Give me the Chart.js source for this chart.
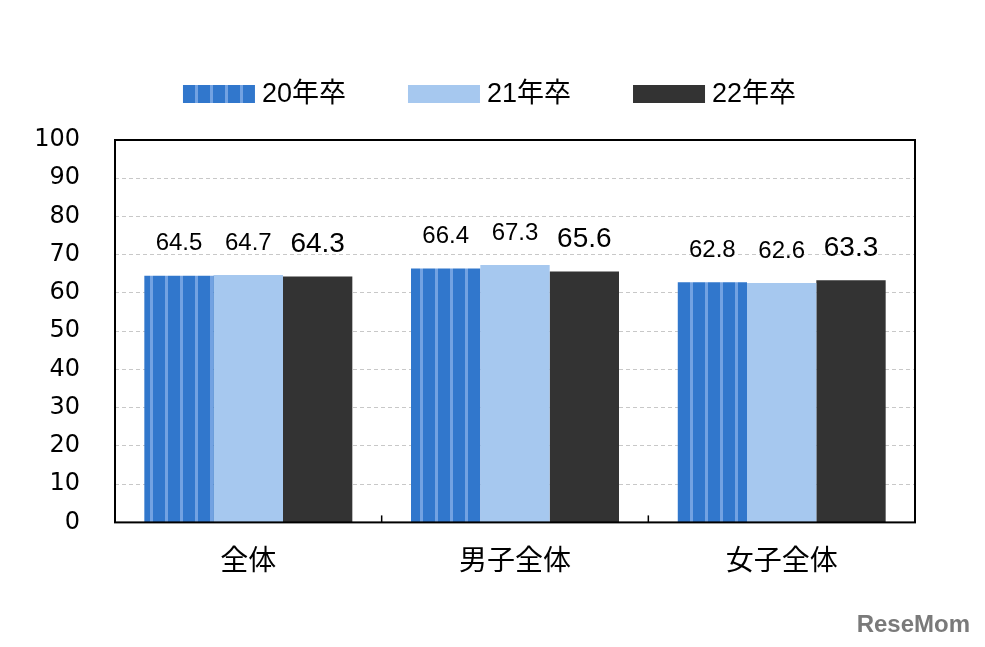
<!DOCTYPE html>
<html>
<head>
<meta charset="utf-8">
<script src="https://cdn.jsdelivr.net/npm/chart.js@4.4.1/dist/chart.umd.min.js"></script>
<style>
  html, body { margin: 0; padding: 0; background: #fff; }
  #wrap { width: 985px; height: 647px; position: relative; }
</style>
</head>
<body>
<div id="wrap"><canvas id="rateChart" width="985" height="647"></canvas></div>
<script>
const categories = ['全体', '男子全体', '女子全体'];
const seriesNames = ['20年卒', '21年卒', '22年卒'];
const grad20 = [64.5, 66.4, 62.8];
const grad21 = [64.7, 67.3, 62.6];
const grad22 = [64.3, 65.6, 63.3];
const yTicks = [0, 10, 20, 30, 40, 50, 60, 70, 80, 90, 100];

const latinFont = '"Liberation Sans", Arial, sans-serif';
const cjkFont = '"Liberation Sans", "Noto Sans CJK JP", sans-serif';

// striped fill for the 20年卒 series
function makeStripes() {
    const c = document.createElement('canvas');
    c.width = 15;
    c.height = 4;
    const g = c.getContext('2d');
    g.fillStyle = '#3177CC';
    g.fillRect(0, 0, 15, 4);
    g.fillStyle = '#72A2E2';
    g.fillRect(0, 0, 3, 4);
    return g.createPattern(c, 'repeat');
}
const stripes = makeStripes();

// legend, frame, value labels, category ticks, watermark
const decorations = {
    id: 'decorations',
    afterDatasetsDraw(chart) {
        const ctx = chart.ctx;
        const area = chart.chartArea;
        const x = chart.scales.x;

        // value labels
        const sizes = [24, 24, 28];
        chart.data.datasets.forEach((ds, i) => {
            const meta = chart.getDatasetMeta(i);
            ctx.save();
            ctx.font = sizes[i] + 'px ' + latinFont;
            ctx.fillStyle = '#000';
            ctx.textAlign = 'center';
            ctx.textBaseline = 'middle';
            meta.data.forEach((bar, j) => {
                ctx.fillText(ds.data[j].toFixed(1), bar.x, bar.y - 32);
            });
            ctx.restore();
        });

        // frame
        ctx.save();
        ctx.strokeStyle = '#000';
        ctx.lineWidth = 2;
        ctx.strokeRect(area.left, area.top, area.right - area.left, area.bottom - area.top);
        // tick marks between categories
        ctx.lineWidth = 1.5;
        for (let i = 1; i < categories.length; i++) {
            const px = (x.getPixelForValue(i - 1) + x.getPixelForValue(i)) / 2;
            ctx.beginPath();
            ctx.moveTo(px, area.bottom - 7);
            ctx.lineTo(px, area.bottom);
            ctx.stroke();
        }
        ctx.restore();

        // legend
        ctx.save();
        ctx.font = '27px ' + cjkFont;
        ctx.textBaseline = 'middle';
        const boxW = 72, boxH = 18, gapText = 7, gapItem = 62;
        const widths = chart.data.datasets.map(ds => boxW + gapText + ctx.measureText(ds.label).width);
        const total = widths.reduce((a, b) => a + b, 0) + gapItem * (widths.length - 1);
        let lx = (chart.width - total) / 2 - 3;
        const ly = 94;
        chart.data.datasets.forEach((ds, i) => {
            ctx.fillStyle = ds.backgroundColor;
            ctx.fillRect(lx, ly - boxH / 2, boxW, boxH);
            ctx.fillStyle = '#000';
            ctx.fillText(ds.label, lx + boxW + gapText, ly + 1);
            lx += widths[i] + gapItem;
        });
        ctx.restore();

        // watermark
        ctx.save();
        ctx.font = 'bold 24px ' + latinFont;
        ctx.fillStyle = '#7a7a7a';
        ctx.textAlign = 'right';
        ctx.textBaseline = 'middle';
        ctx.fillText('ReseMom', 970, 625);
        ctx.restore();
    }
};

const ctx = document.getElementById('rateChart').getContext('2d');
new Chart(ctx, {
    type: 'bar',
    data: {
        labels: categories,
        datasets: [
            { label: seriesNames[0], data: grad20, backgroundColor: stripes },
            { label: seriesNames[1], data: grad21, backgroundColor: '#A6C8EF' },
            { label: seriesNames[2], data: grad22, backgroundColor: '#333333' }
        ]
    },
    options: {
        responsive: false,
        animation: false,
        layout: { padding: { top: 140, right: 70, bottom: 51, left: 0 } },
        datasets: {
            bar: { barPercentage: 1, categoryPercentage: 0.78, borderWidth: 0 }
        },
        plugins: {
            legend: { display: false },
            tooltip: { enabled: false }
        },
        scales: {
            x: {
                grid: { display: false, drawTicks: false },
                border: { display: false },
                ticks: {
                    padding: 20,
                    color: '#000',
                    font: { size: 28, family: '"Noto Sans CJK JP", sans-serif' }
                }
            },
            y: {
                min: 0,
                max: 100,
                afterFit(scale) { scale.width = 115; },
                afterBuildTicks(scale) { scale.ticks = yTicks.map(v => ({ value: v })); },
                border: { display: false, dash: [4, 3] },
                grid: {
                    drawTicks: false,
                    color: c => (c.tick && (c.tick.value === 0 || c.tick.value === 100)) ? 'rgba(0,0,0,0)' : '#C8C8C8',
                    lineWidth: 1
                },
                ticks: {
                    padding: 35,
                    color: '#000',
                    font: { size: 24, family: '"DejaVu Sans", sans-serif' }
                }
            }
        }
    },
    plugins: [decorations]
});
</script>
</body>
</html>
